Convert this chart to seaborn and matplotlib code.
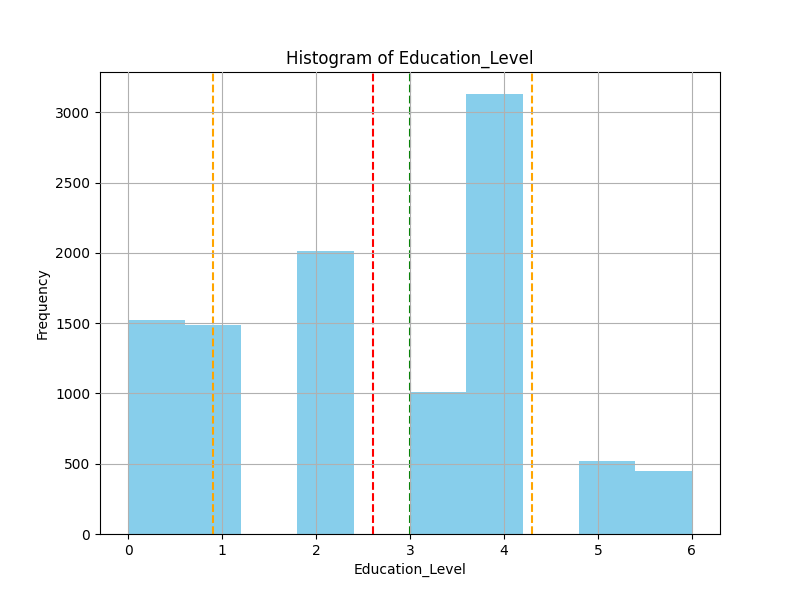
import matplotlib
matplotlib.use("Agg")
import matplotlib.pyplot as plt
import seaborn as sns
import numpy as np

# Education level counts
levels = [0, 1, 2, 3, 4, 5, 6]
counts = [1520, 1490, 2010, 1010, 3130, 520, 450]

vals = np.array(levels, dtype=float)
w = np.array(counts, dtype=float)
mean = np.average(vals, weights=w)
std = np.sqrt(np.average((vals - mean) ** 2, weights=w))
median = 3.0

fig, ax = plt.subplots(figsize=(8, 6), dpi=100)
sns.histplot(x=levels, weights=counts, bins=10, binrange=(0, 6), ax=ax,
             color="skyblue", alpha=1.0, edgecolor="none", linewidth=0)
ax.set_axisbelow(False)
ax.grid(True, color="#b0b0b0", linewidth=0.8)
ax.axvline(mean, color="red", linestyle="--", linewidth=1.5)
ax.axvline(median, color="green", linestyle="--", linewidth=1.5)
ax.axvline(mean - std, color="orange", linestyle="--", linewidth=1.5)
ax.axvline(mean + std, color="orange", linestyle="--", linewidth=1.5)
ax.set_title("Histogram of Education_Level")
ax.set_xlabel("Education_Level")
ax.set_ylabel("Frequency")
fig.savefig("out.png", dpi=100)
